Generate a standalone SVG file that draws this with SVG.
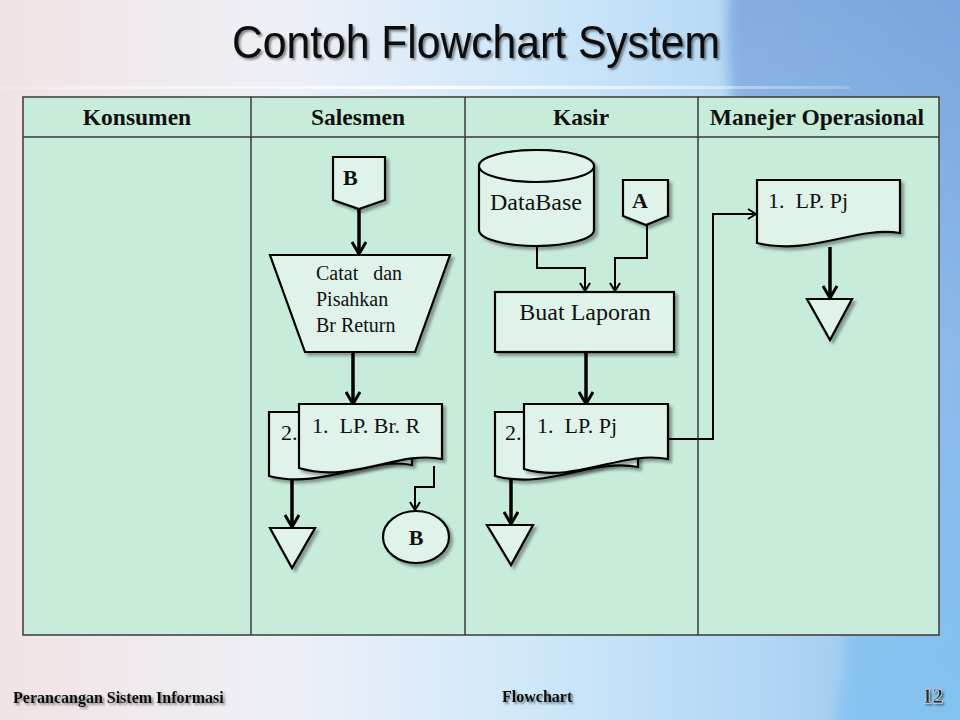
<svg xmlns="http://www.w3.org/2000/svg" width="960" height="720" viewBox="0 0 960 720">
<defs>
  <linearGradient id="bg" x1="0" y1="0" x2="1" y2="0">
    <stop offset="0" stop-color="#f1e3e4"/>
    <stop offset="0.3" stop-color="#eef0f7"/>
    <stop offset="0.55" stop-color="#cfe8fa"/>
    <stop offset="0.8" stop-color="#b2d6f4"/>
    <stop offset="1" stop-color="#8fbfec"/>
  </linearGradient>
  <linearGradient id="bgR" x1="0" y1="0" x2="0" y2="1">
    <stop offset="0" stop-color="#6f9bd6"/>
    <stop offset="0.5" stop-color="#8ab8ea"/>
    <stop offset="1" stop-color="#7cc3f3"/>
  </linearGradient>
  <linearGradient id="line" x1="0" y1="0" x2="1" y2="0">
    <stop offset="0" stop-color="#ffffff" stop-opacity="0.2"/>
    <stop offset="0.5" stop-color="#ffffff" stop-opacity="0.9"/>
    <stop offset="1" stop-color="#ffffff" stop-opacity="0.2"/>
  </linearGradient>
  <filter id="sh" x="-20%" y="-20%" width="150%" height="150%">
    <feDropShadow dx="3" dy="3" stdDeviation="1.5" flood-color="#000" flood-opacity="0.35"/>
  </filter>
  <filter id="tsh" x="-10%" y="-20%" width="120%" height="150%">
    <feDropShadow dx="2" dy="2" stdDeviation="1.2" flood-color="#000" flood-opacity="0.45"/>
  </filter>
  <filter id="blur" x="-10%" y="-10%" width="120%" height="120%">
    <feGaussianBlur stdDeviation="6"/>
  </filter>
  <marker id="ah" viewBox="0 0 14 16" refX="13" refY="8" markerWidth="14" markerHeight="16" markerUnits="userSpaceOnUse" orient="auto">
    <path d="M1,1 L13,8 L1,15" fill="none" stroke="#000" stroke-width="3"/>
  </marker>
  <marker id="ahs" viewBox="0 0 10 12" refX="9" refY="6" markerWidth="10" markerHeight="12" markerUnits="userSpaceOnUse" orient="auto">
    <path d="M1,1 L9,6 L1,11" fill="none" stroke="#000" stroke-width="2"/>
  </marker>
  <style>
    .shape { fill: #dff3ea; stroke: #000; stroke-width: 2.2; filter: url(#sh); }
    .thick { fill: none; stroke: #000; stroke-width: 3.5; marker-end: url(#ah); }
    .thin { fill: none; stroke: #000; stroke-width: 2; marker-end: url(#ahs); }
    .lbl { font-family: "Liberation Serif", "Times New Roman", serif; font-size: 22px; fill: #111; }
    .big { font-family: "Liberation Serif", "Times New Roman", serif; font-size: 24px; fill: #111; }
    .sm { font-family: "Liberation Serif", "Times New Roman", serif; font-size: 20px; fill: #111; }
    .bold { font-family: "Liberation Serif", "Times New Roman", serif; font-size: 22px; font-weight: bold; fill: #111; }
    .hdr { font-family: "Liberation Serif", "Times New Roman", serif; font-size: 23.5px; font-weight: bold; fill: #111; text-anchor: middle; }
    .foot { font-family: "Liberation Serif", "Times New Roman", serif; font-size: 16px; font-weight: bold; fill: #111; }
    .cell { fill: #c8ecda; stroke: #3a3a3a; stroke-width: 1.5; }
  </style>
</defs>

<!-- background -->
<rect x="0" y="0" width="960" height="720" fill="url(#bg)"/>
<path d="M730,-20 C700,220 900,480 830,740 L980,740 L980,-20 Z" fill="url(#bgR)" opacity="0.7" filter="url(#blur)"/>
<rect x="0" y="86" width="850" height="3" fill="url(#line)"/>

<!-- title -->
<text x="476" y="58" font-family="Liberation Sans, Arial, sans-serif" font-size="46" fill="#0a0a0a" text-anchor="middle" textLength="488" lengthAdjust="spacingAndGlyphs" filter="url(#tsh)">Contoh Flowchart System</text>

<!-- swimlane table -->
<g id="table">
  <rect class="cell" x="23" y="97" width="916" height="538"/>
  <line x1="23" y1="137" x2="939" y2="137" stroke="#3a3a3a" stroke-width="1.5"/>
  <line x1="251" y1="97" x2="251" y2="635" stroke="#3a3a3a" stroke-width="1.5"/>
  <line x1="465" y1="97" x2="465" y2="635" stroke="#3a3a3a" stroke-width="1.5"/>
  <line x1="698" y1="97" x2="698" y2="635" stroke="#3a3a3a" stroke-width="1.5"/>
  <text class="hdr" x="137" y="125">Konsumen</text>
  <text class="hdr" x="358" y="125">Salesmen</text>
  <text class="hdr" x="581" y="125">Kasir</text>
  <text class="hdr" x="817" y="125">Manejer Operasional</text>
</g>

<!-- Salesmen lane -->
<g id="offpage-b">
  <polygon class="shape" points="333,157 385,157 385,200 359,209 333,200"/>
  <text class="bold" x="343" y="185">B</text>
</g>
<g id="catat">
  <polygon class="shape" points="270,255 450,255 415,352 305,352"/>
  <text class="sm" x="316" y="280" xml:space="preserve">Catat   dan</text>
  <text class="sm" x="316" y="306">Pisahkan</text>
  <text class="sm" x="316" y="332">Br Return</text>
</g>
<g id="doc-brr-2">
  <path class="shape" d="M269,412 H412 V465 C368,456 322,490 269,476 Z"/>
  <text class="lbl" x="281" y="440">2.</text>
</g>
<g id="doc-brr-1">
  <path class="shape" d="M299,404 H442 V459 C398,450 352,484 299,468 Z"/>
  <text class="lbl" x="312" y="433" xml:space="preserve">1.  LP. Br. R</text>
</g>
<g id="arsip-sales">
  <polygon class="shape" points="270,528 315,528 292,568"/>
</g>
<g id="onpage-b">
  <ellipse class="shape" cx="416" cy="537" rx="33" ry="26"/>
  <text class="bold" x="416" y="545" text-anchor="middle">B</text>
</g>

<!-- Kasir lane -->
<g id="database">
  <path class="shape" d="M479,166 V230 A57.5,16 0 0 0 594,230 V166 A57.5,16 0 0 0 479,166 Z"/>
  <ellipse cx="536.5" cy="166" rx="57.5" ry="16" fill="#dff3ea" stroke="#000" stroke-width="2.2"/>
  <text class="big" x="490" y="210">DataBase</text>
</g>
<g id="offpage-a">
  <polygon class="shape" points="623,180 668,180 668,216 646,225 623,216"/>
  <text class="bold" x="640" y="208" text-anchor="middle">A</text>
</g>
<g id="buat-laporan">
  <rect class="shape" x="495" y="292" width="179" height="60"/>
  <text class="big" x="585" y="320" text-anchor="middle">Buat Laporan</text>
</g>
<g id="doc-pj-2">
  <path class="shape" d="M495,412 H638 V467 C592,458 548,490 495,476 Z"/>
  <text class="lbl" x="505" y="440">2.</text>
</g>
<g id="doc-pj-1">
  <path class="shape" d="M524,404 H668 V459 C622,450 576,484 524,469 Z"/>
  <text class="lbl" x="537" y="433" xml:space="preserve">1.  LP. Pj</text>
</g>
<g id="arsip-kasir">
  <polygon class="shape" points="487,525 533,525 511,565"/>
</g>

<!-- Manajer lane -->
<g id="doc-pj-mgr">
  <path class="shape" d="M757,180 H900 V233 C855,226 812,256 757,243 Z"/>
  <text class="lbl" x="768" y="208" xml:space="preserve">1.  LP. Pj</text>
</g>
<g id="arsip-mgr">
  <polygon class="shape" points="807,299 852,299 830,340"/>
</g>

<!-- connectors -->
<g id="connectors">
  <path class="thick" d="M359,209 V254"/>
  <path class="thick" d="M353,352 V404"/>
  <path class="thick" d="M292,479 V527"/>
  <path class="thin" d="M434,466 V487 H415 V510"/>
  <path class="thin" d="M537,246 V268 H585 V291"/>
  <path class="thin" d="M647,225 V258 H615 V291"/>
  <path class="thick" d="M586,352 V404"/>
  <path class="thick" d="M511,479 V524"/>
  <path class="thin" d="M668,439 H713 V214 H756"/>
  <path class="thick" d="M830,247 V298"/>
</g>

<!-- footer -->
<text class="foot" x="13" y="703" filter="url(#tsh)">Perancangan Sistem Informasi</text>
<text class="foot" x="502" y="702" filter="url(#tsh)">Flowchart</text>
<text x="943" y="703" font-family="Liberation Serif, Times New Roman, serif" font-size="21" font-weight="bold" fill="#2a2a2a" stroke="#ffffff" stroke-width="0.4" text-anchor="end" filter="url(#tsh)">12</text>
</svg>
